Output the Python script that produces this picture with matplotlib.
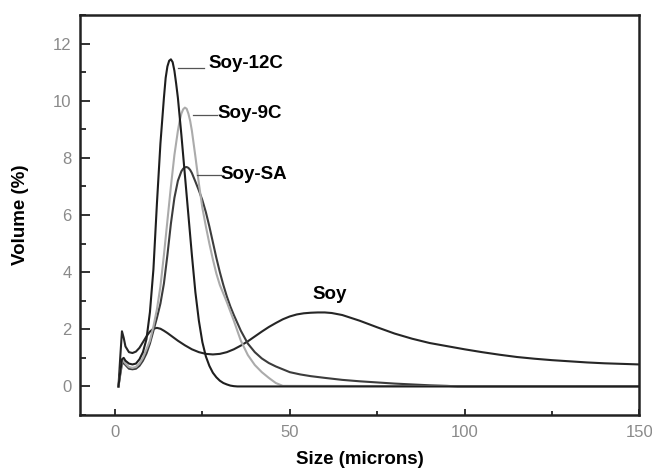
import numpy as np
import matplotlib
matplotlib.use("Agg")
import matplotlib.pyplot as plt
from matplotlib.ticker import MultipleLocator

plt.rcParams['font.family'] = ['Liberation Sans', 'DejaVu Sans']

# particle size distributions
x_12c = [1, 1.5, 2, 2.5, 3, 4, 5, 6, 7, 8, 9, 10, 11, 12, 13, 14, 14.5, 15, 15.5, 16, 16.5,
         17, 17.5, 18, 19, 20, 21, 22, 23, 24, 25, 26, 27, 28, 29, 30, 31, 32, 33, 34, 35,
         36, 150]
y_12c = [0, 0.5, 0.95, 1.0, 0.9, 0.8, 0.77, 0.8, 0.95, 1.2, 1.65, 2.6, 4.1, 6.4, 8.5, 10.1,
         10.8, 11.2, 11.4, 11.45, 11.35, 11.05, 10.6, 10.1, 8.8, 7.4, 6.0, 4.6, 3.3, 2.3,
         1.55, 1.05, 0.72, 0.48, 0.32, 0.2, 0.12, 0.07, 0.03, 0.01, 0.0, 0, 0]

x_9c = [1, 1.5, 2, 2.5, 3, 4, 5, 6, 7, 8, 9, 10, 11, 12, 13, 14, 15, 16, 17, 18, 18.5, 19,
        19.5, 20, 20.5, 21, 21.5, 22, 23, 24, 25, 26, 27, 28, 29, 30, 31, 32, 34, 36, 38, 40,
        42, 44, 46, 48, 150]
y_9c = [0, 0.45, 0.85, 0.9, 0.8, 0.68, 0.65, 0.68, 0.8, 1.0, 1.3, 1.6, 2.1, 2.7, 3.5, 4.6,
        5.8, 7.0, 8.1, 8.95, 9.3, 9.55, 9.7, 9.76, 9.72, 9.55, 9.3, 8.95, 8.05, 7.1, 6.25,
        5.6, 5.0, 4.45, 3.95, 3.55, 3.25, 2.95, 2.3, 1.6, 1.1, 0.75, 0.5, 0.3, 0.12, 0.02, 0]

x_sa = [1, 1.5, 2, 2.5, 3, 4, 5, 6, 7, 8, 9, 10, 11, 12, 13, 14, 15, 16, 17, 18, 19, 19.5,
        20, 20.5, 21, 21.5, 22, 23, 24, 25, 26, 27, 28, 29, 30, 31, 32, 33, 34, 36, 38, 40,
        42, 44, 46, 48, 50, 53, 56, 60, 65, 70, 75, 80, 85, 90, 95, 98, 150]
y_sa = [0, 0.4, 0.78, 0.82, 0.75, 0.62, 0.6, 0.62, 0.72, 0.9, 1.15, 1.5, 1.95, 2.4, 2.9,
        3.6, 4.6, 5.7, 6.6, 7.2, 7.53, 7.62, 7.67, 7.68, 7.65, 7.58, 7.47, 7.17, 6.86, 6.52,
        6.1, 5.6, 5.05, 4.5, 4.0, 3.55, 3.15, 2.8, 2.5, 1.95, 1.5, 1.2, 0.98, 0.82, 0.7, 0.6,
        0.5, 0.42, 0.36, 0.3, 0.23, 0.18, 0.14, 0.1, 0.07, 0.04, 0.02, 0.0, 0]

x_soy = [1, 1.5, 2, 2.5, 3, 4, 5, 6, 7, 8, 9, 10, 11, 12, 13, 14, 15, 16, 18, 20, 22, 24,
         26, 28, 30, 32, 34, 36, 38, 40, 42, 44, 46, 48, 50, 52, 54, 56, 58, 60, 62, 65, 70,
         75, 80, 85, 90, 95, 100, 105, 110, 115, 120, 125, 130, 135, 140, 145, 150]
y_soy = [0, 1.0, 1.93, 1.7, 1.4, 1.2, 1.17, 1.22, 1.35, 1.55, 1.75, 1.92, 2.02, 2.05, 2.02,
         1.95, 1.87, 1.78, 1.6, 1.44, 1.3, 1.2, 1.14, 1.12, 1.14, 1.2, 1.3, 1.43, 1.58, 1.75,
         1.92, 2.08, 2.22, 2.35, 2.45, 2.52, 2.56, 2.58, 2.59, 2.59, 2.57, 2.5, 2.3, 2.07,
         1.85, 1.67, 1.52, 1.41, 1.3, 1.2, 1.11, 1.03, 0.97, 0.92, 0.88, 0.84, 0.81, 0.79,
         0.77]

fig = plt.figure(figsize=(6.52, 4.70), dpi=100)
ax = fig.add_axes([0.1227, 0.117, 0.858, 0.851])

ax.plot(x_soy, y_soy, color='#262626', lw=1.5)
ax.plot(x_sa, y_sa, color='#3c3c3c', lw=1.5)
ax.plot(x_9c, y_9c, color='#ababab', lw=1.5)
ax.plot(x_12c, y_12c, color='#1e1e1e', lw=1.5)

# labels with leader lines
ax.plot([18, 25.4], [11.13, 11.13], color='#555555', lw=0.9)
ax.text(26.8, 11.3, 'Soy-12C', fontsize=13.5, fontweight='bold', va='center')
ax.plot([22.3, 29.2], [9.49, 9.49], color='#555555', lw=0.9)
ax.text(29.2, 9.56, 'Soy-9C', fontsize=13.5, fontweight='bold', va='center')
ax.plot([23.4, 30.2], [7.39, 7.39], color='#555555', lw=0.9)
ax.text(30.3, 7.43, 'Soy-SA', fontsize=13.5, fontweight='bold', va='center')
ax.text(56.6, 3.21, 'Soy', fontsize=13.5, fontweight='bold', va='center')

ax.set_xlim(-10, 150)
ax.set_ylim(-1, 13)
ax.xaxis.set_major_locator(MultipleLocator(50))
ax.xaxis.set_minor_locator(MultipleLocator(25))
ax.yaxis.set_major_locator(MultipleLocator(2))
ax.yaxis.set_minor_locator(MultipleLocator(1))
ax.tick_params(which='both', direction='in', top=False, right=False, width=1.3,
               labelsize=12, labelcolor='#8a8a8a', color='#222222')
ax.tick_params(axis='y', which='major', length=7, pad=6)
ax.tick_params(axis='y', which='minor', length=4)
ax.tick_params(axis='x', which='major', length=4, pad=7)
ax.tick_params(axis='x', which='minor', length=3)
for s in ax.spines.values():
    s.set_linewidth(1.8)
    s.set_color('#222222')

ax.set_xlabel('Size (microns)', fontsize=13.5, fontweight='bold', labelpad=8)
ax.set_ylabel('Volume (%)', fontsize=13.5, fontweight='bold', labelpad=17)

fig.savefig('out.png', dpi=100)
